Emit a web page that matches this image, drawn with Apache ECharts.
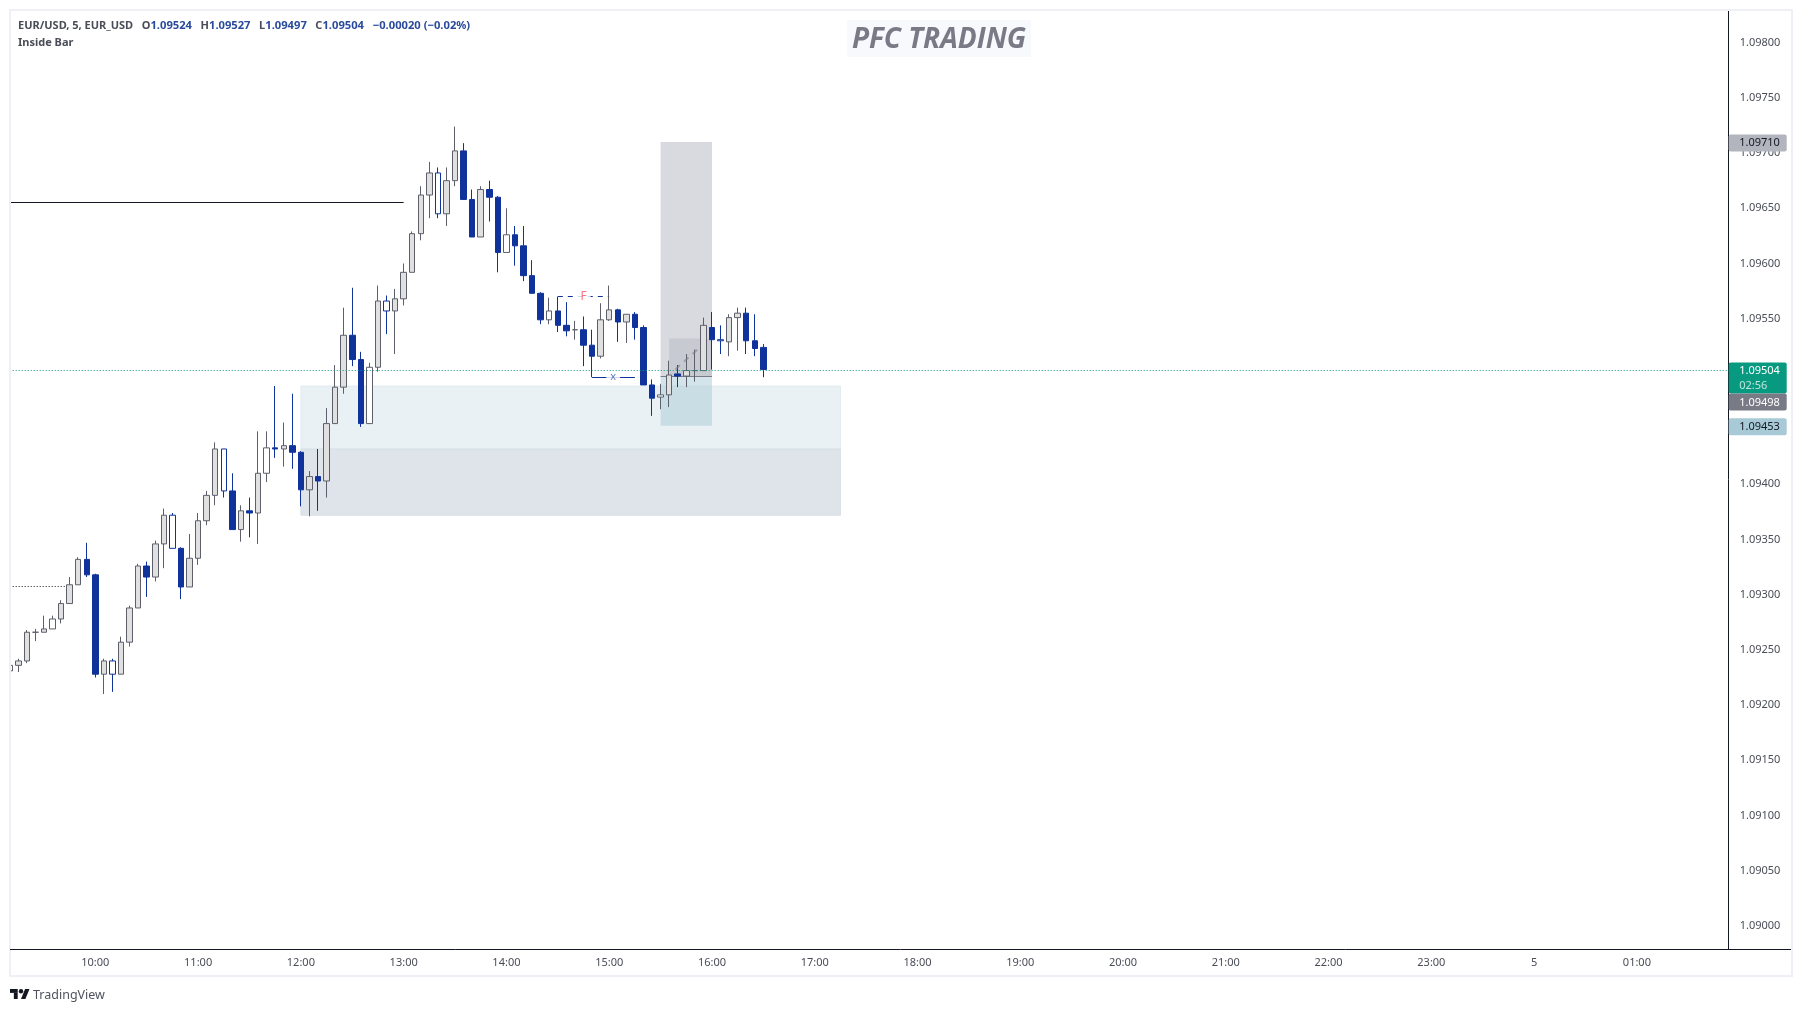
<!DOCTYPE html>
<html>
<head>
<meta charset="utf-8">
<title>EUR/USD 5m</title>
<script src="https://cdn.jsdelivr.net/npm/echarts@6/dist/echarts.min.js"></script>
<style>
  html, body { margin: 0; padding: 0; background: #fff; }
  #main { width: 1802px; height: 1012px; }
</style>
</head>
<body>
<div id="main"></div>
<script>
const opens = [
  1.09231, 1.09236, 1.09240, 1.09266, 1.09266, 1.09269, 1.09278, 1.09292, 1.09309, 1.09332,
  1.09318, 1.09228, 1.09240, 1.09228, 1.09257, 1.09288, 1.09326, 1.09316, 1.09346, 1.09372,
  1.09342, 1.09307, 1.09333, 1.09367, 1.09390, 1.09432, 1.09394, 1.09359, 1.09376, 1.09374,
  1.09410, 1.09433, 1.09432, 1.09435, 1.09429, 1.09395, 1.09407, 1.09403, 1.09455, 1.09488,
  1.09535, 1.09513, 1.09455, 1.09506, 1.09566, 1.09557, 1.09568, 1.09592, 1.09627, 1.09662,
  1.09682, 1.09645, 1.09675, 1.09702, 1.09658, 1.09624, 1.09667, 1.09660, 1.09610, 1.09626,
  1.09616, 1.09589, 1.09573, 1.09549, 1.09557, 1.09544, 1.09540, 1.09540, 1.09526, 1.09516,
  1.09549, 1.09558, 1.09547, 1.09554, 1.09542, 1.09490, 1.09479, 1.09481, 1.09500, 1.09498,
  1.09503, 1.09503, 1.09542, 1.09531, 1.09529, 1.09551, 1.09555, 1.09530, 1.09524
]
const closes = [
  1.09236, 1.09240, 1.09266, 1.09266, 1.09269, 1.09278, 1.09292, 1.09309, 1.09332, 1.09318,
  1.09228, 1.09240, 1.09228, 1.09257, 1.09288, 1.09326, 1.09316, 1.09346, 1.09372, 1.09342,
  1.09307, 1.09333, 1.09367, 1.09390, 1.09432, 1.09394, 1.09359, 1.09376, 1.09374, 1.09410,
  1.09433, 1.09432, 1.09435, 1.09429, 1.09395, 1.09407, 1.09403, 1.09455, 1.09488, 1.09535,
  1.09513, 1.09455, 1.09506, 1.09566, 1.09557, 1.09568, 1.09592, 1.09627, 1.09662, 1.09682,
  1.09645, 1.09675, 1.09702, 1.09658, 1.09624, 1.09667, 1.09660, 1.09610, 1.09626, 1.09616,
  1.09589, 1.09573, 1.09549, 1.09557, 1.09544, 1.09539, 1.09540, 1.09526, 1.09516, 1.09549,
  1.09558, 1.09547, 1.09554, 1.09542, 1.09490, 1.09478, 1.09481, 1.09499, 1.09498, 1.09503,
  1.09503, 1.09544, 1.09531, 1.09530, 1.09551, 1.09555, 1.09530, 1.09523, 1.09504
]
const lows = [
  1.09231, 1.09230, 1.09238, 1.09258, 1.09266, 1.09269, 1.09274, 1.09292, 1.09309, 1.09316,
  1.09225, 1.09210, 1.09212, 1.09228, 1.09253, 1.09288, 1.09298, 1.09312, 1.09324, 1.09342,
  1.09296, 1.09307, 1.09327, 1.09363, 1.09381, 1.09388, 1.09359, 1.09348, 1.09352, 1.09346,
  1.09402, 1.09424, 1.09416, 1.09414, 1.09380, 1.09371, 1.09376, 1.09388, 1.09455, 1.09482,
  1.09507, 1.09452, 1.09455, 1.09502, 1.09536, 1.09518, 1.09562, 1.09592, 1.09621, 1.09641,
  1.09641, 1.09634, 1.09670, 1.09658, 1.09624, 1.09624, 1.09638, 1.09592, 1.09610, 1.09598,
  1.09584, 1.09573, 1.09545, 1.09545, 1.09538, 1.09534, 1.09531, 1.09507, 1.09497, 1.09514,
  1.09548, 1.09529, 1.09528, 1.09531, 1.09490, 1.09462, 1.09468, 1.09470, 1.09488, 1.09488,
  1.09493, 1.09503, 1.09504, 1.09518, 1.09516, 1.09521, 1.09518, 1.09516, 1.09497
]
const highs = [
  1.09236, 1.09242, 1.09268, 1.09269, 1.09281, 1.09281, 1.09295, 1.09316, 1.09334, 1.09347,
  1.09319, 1.09242, 1.09242, 1.09262, 1.09290, 1.09328, 1.09330, 1.09349, 1.09378, 1.09374,
  1.09343, 1.09355, 1.09374, 1.09394, 1.09438, 1.09432, 1.09410, 1.09381, 1.09388, 1.09448,
  1.09448, 1.09489, 1.09456, 1.09482, 1.09430, 1.09412, 1.09432, 1.09469, 1.09508, 1.09560,
  1.09578, 1.09520, 1.09510, 1.09580, 1.09571, 1.09577, 1.09600, 1.09629, 1.09670, 1.09692,
  1.09687, 1.09687, 1.09724, 1.09709, 1.09667, 1.09670, 1.09675, 1.09661, 1.09650, 1.09634,
  1.09634, 1.09603, 1.09574, 1.09569, 1.09570, 1.09565, 1.09548, 1.09552, 1.09540, 1.09564,
  1.09580, 1.09559, 1.09554, 1.09556, 1.09544, 1.09495, 1.09491, 1.09512, 1.09508, 1.09518,
  1.09522, 1.09551, 1.09556, 1.09544, 1.09554, 1.09560, 1.09560, 1.09554, 1.09527
]
// bars drawn with a white body in the reference
const hollowBars = [0, 5, 12, 19, 25, 30, 42, 44, 50, 58, 63, 76, 83]

const priceTicks = [1.09, 1.0905, 1.091, 1.0915, 1.092, 1.0925, 1.093, 1.0935, 1.094, 1.0945, 1.095, 1.0955, 1.096, 1.0965, 1.097, 1.0975, 1.098]
const priceRange = [1.089791, 1.098296]
const hourLabels = ['10:00', '11:00', '12:00', '13:00', '14:00', '15:00', '16:00', '17:00', '18:00', '19:00', '20:00', '21:00', '22:00', '23:00', '00:00', '01:00']

// [from, to, price]
const keyLevel = ['09:10', '13:00', 1.09655]
const dottedLevel = ['09:10', '09:45', 1.09307]
const lastPriceLine = ['09:10', '01:55', 1.095035]
const entryLine = ['15:30', '16:00', 1.09498]
const fractalLine = ['14:30', '15:00', 1.09570]
const crossLine = ['14:50', '15:15', 1.09497]
const stepMarks = [['15:40', 1.09506], ['15:45', 1.09513], ['15:50', 1.09520]]

const GREY = '#5d606b'
const BLUE = '#0f339b'
const TEXT = '#4a4d57'
const FONT = '"Noto Sans", sans-serif'

// 5 minute slots from the left edge of the pane
const times = []
for (let i = 0; i <= 201; i++) {
  const m = (9 * 60 + 10 + i * 5) % 1440
  times.push(String(Math.floor(m / 60)).padStart(2, '0') + ':' + String(m % 60).padStart(2, '0'))
}

const candles = opens.map((o, i) => {
  const item = { value: [o, closes[i], lows[i], highs[i]] }
  if (hollowBars.includes(i)) item.itemStyle = { color: '#fff', color0: '#fff' }
  return item
})

// horizontal level, snapped to a pixel row so a 1px line stays sharp
function levelSeries(level, color, lineDash, z) {
  const [from, to, price] = level
  return {
    type: 'custom', z, silent: true, animation: false, clip: false,
    data: [[times.indexOf(from), price, times.indexOf(to)]],
    encode: { x: [0, 2], y: 1 },
    renderItem: (params, api) => {
      const a = api.coord([api.value(0), api.value(1)])
      const b = api.coord([api.value(2), api.value(1)])
      const y = Math.floor(a[1]) + 0.5
      return {
        type: 'line',
        shape: { x1: a[0], y1: y, x2: b[0], y2: y },
        style: { stroke: color, lineWidth: 1, lineDash },
      }
    },
  }
}

function pointLabel(x, price, text, color, size, offset) {
  return {
    type: 'scatter', data: [[x, price]], z: 6, silent: true, symbolSize: 0, animation: false,
    label: {
      show: true, position: 'inside', formatter: text, color, fontSize: size, fontFamily: FONT,
      backgroundColor: '#fff', padding: [0, 4], offset,
    },
  }
}

const chart = echarts.init(document.getElementById('main'))

chart.setOption({
  animation: false,
  backgroundColor: '#fff',
  title: {
    left: 13, top: 12, itemGap: 0,
    text: [
      '{k|EUR/USD, 5, EUR_USD   O}{v|1.09524}{k|   H}{v|1.09527}{k|   L}{v|1.09497}{k|   C}{v|1.09504}{v|   −0.00020 (−0.02%)}',
      '{k|Inside Bar}',
    ].join('\n'),
    textStyle: {
      rich: {
        k: { color: TEXT, fontSize: 11, fontFamily: FONT, lineHeight: 17 },
        v: { color: '#2a4a9c', fontSize: 11.2, fontFamily: FONT, lineHeight: 17 },
      },
    },
  },
  grid: { left: 9.7, top: 10, width: 1721.4, height: 939 },
  xAxis: {
    type: 'category', data: times, boundaryGap: false,
    axisLine: { show: false }, axisTick: { show: false }, splitLine: { show: false },
    axisLabel: {
      color: TEXT, fontSize: 11, fontFamily: FONT, margin: 8,
      interval: (i, v) => hourLabels.includes(v),
      formatter: (v) => (v === '00:00' ? '5' : v),
    },
  },
  yAxis: {
    type: 'value', position: 'right', offset: -2.4, scale: true,
    min: priceRange[0], max: priceRange[1],
    axisLine: { show: true, lineStyle: { color: '#131722', width: 1 } },
    axisTick: { show: false }, splitLine: { show: false },
    axisLabel: {
      customValues: priceTicks, color: TEXT, fontSize: 11, fontFamily: FONT, margin: 11,
      padding: [5, 0, 0, 0],
      formatter: (v) => v.toFixed(5),
    },
  },
  series: [
    {
      type: 'line', data: [], z: 1, silent: true,
      markArea: {
        silent: true,
        data: [
          [{ xAxis: '12:00', yAxis: 1.09489, itemStyle: { color: '#eaf1f5', borderColor: '#e2ebef', borderWidth: 1 } }, { xAxis: '17:15', yAxis: 1.09432 }],
          [{ xAxis: '12:00', yAxis: 1.09432, itemStyle: { color: '#dee4ea', borderColor: '#d8e0e6', borderWidth: 1 } }, { xAxis: '17:15', yAxis: 1.09372 }],
        ],
      },
    },
    {
      type: 'line', data: [], z: 1, silent: true,
      markArea: {
        silent: true,
        data: [
          [{ xAxis: '15:30', yAxis: 1.09710, itemStyle: { color: 'rgba(120,123,140,0.28)' } }, { xAxis: '16:00', yAxis: 1.09498 }],
          [{ xAxis: '15:30', yAxis: 1.09498, itemStyle: { color: 'rgba(168,202,214,0.5)' } }, { xAxis: '16:00', yAxis: 1.09453 }],
          [{ xAxis: '15:35', yAxis: 1.09532, itemStyle: { color: 'rgba(120,123,150,0.17)' } }, { xAxis: '16:00', yAxis: 1.09498 }],
        ],
      },
    },
    levelSeries(keyLevel, '#131722', null, 2),
    levelSeries(dottedLevel, '#131722', [1, 2], 2),
    levelSeries(entryLine, '#787b86', null, 2),
    levelSeries(fractalLine, BLUE, [5, 5], 2),
    levelSeries(crossLine, BLUE, null, 2),
    {
      type: 'candlestick', data: candles, z: 4, barWidth: 6, silent: true,
      itemStyle: {
        color: '#e0e0e0', color0: BLUE,
        borderColor: GREY, borderColor0: BLUE, borderColorDoji: GREY, borderWidth: 1,
      },
    },
    levelSeries(lastPriceLine, '#089981', [1, 2], 5),
    {
      type: 'scatter', data: stepMarks, z: 5, silent: true, animation: false,
      symbol: 'rect', symbolSize: [6, 2], symbolRotate: 45,
      itemStyle: { color: 'rgba(120,123,134,0.75)' },
    },
    pointLabel('14:45', 1.09570, 'F', '#f7525f', 12, [0, 0]),
    pointLabel('15:00', 1.09497, 'x', '#3a58ad', 11, [4, 0]),
  ],
})

// tags on the price scale and the page furniture, placed from the axis scale
const tagLeft = 1728.7
const tagWidth = 58
const tagY = (price) => chart.convertToPixel({ yAxisIndex: 0 }, price) + 1
const lastY = tagY(1.09504)

function tag(y, h, fill) {
  return { type: 'rect', z: 100, shape: { x: tagLeft, y, width: tagWidth, height: h, r: 2 }, style: { fill } }
}
function tagText(y, text, fill) {
  return {
    type: 'text', z: 101, x: tagLeft + 10.5, y,
    style: { text, fill, font: '11px ' + FONT, textVerticalAlign: 'middle' },
  }
}

chart.setOption({
  graphic: [
    // covers the part of the first bar that falls left of the pane
    { type: 'rect', z: 50, silent: true, shape: { x: 0, y: 0, width: 9, height: 1012 }, style: { fill: '#fff' } },
    { type: 'rect', z: 51, silent: true, shape: { x: 10, y: 10, width: 1782, height: 966 }, style: { fill: 'none', stroke: '#eff0f6', lineWidth: 2 } },
    { type: 'line', z: 52, shape: { x1: 10, y1: 949.5, x2: 1791, y2: 949.5 }, style: { stroke: '#131722', lineWidth: 1 } },
    { type: 'rect', z: 3, shape: { x: 847, y: 20, width: 184, height: 37 }, style: { fill: '#f8f9fd' } },
    {
      type: 'text', z: 4, x: 939, y: 40.5,
      style: { text: 'PFC TRADING', fill: '#787b86', font: 'italic bold 28px "Open Sans", sans-serif', textAlign: 'center', textVerticalAlign: 'middle' },
    },
    tag(tagY(1.09710) - 8.5, 17, '#b2b5be'),
    tagText(tagY(1.09710), '1.09710', '#131722'),
    tag(lastY - 8, 31, '#089981'),
    tagText(lastY, '1.09504', '#fff'),
    tagText(lastY + 15, '02:56', '#bfe6dd'),
    tag(lastY + 23, 17, '#787b86'),
    tagText(lastY + 32, '1.09498', '#fff'),
    tag(tagY(1.09453) - 8.5, 17, '#a8cad6'),
    tagText(tagY(1.09453), '1.09453', '#131722'),
    // TradingView mark
    { type: 'rect', z: 5, shape: { x: 10, y: 989, width: 7.7, height: 3.9 }, style: { fill: '#131722' } },
    { type: 'rect', z: 5, shape: { x: 13.85, y: 992.9, width: 3.85, height: 6.1 }, style: { fill: '#131722' } },
    { type: 'circle', z: 5, shape: { cx: 21, cy: 991.2, r: 2.2 }, style: { fill: '#131722' } },
    { type: 'polygon', z: 5, shape: { points: [[25.4, 999], [21, 999], [25.1, 989], [29.5, 989]] }, style: { fill: '#131722' } },
    {
      type: 'text', z: 5, x: 33, y: 995,
      style: { text: 'TradingView', fill: '#50535e', font: '12.5px ' + FONT, textVerticalAlign: 'middle' },
    },
  ],
})
</script>
</body>
</html>
